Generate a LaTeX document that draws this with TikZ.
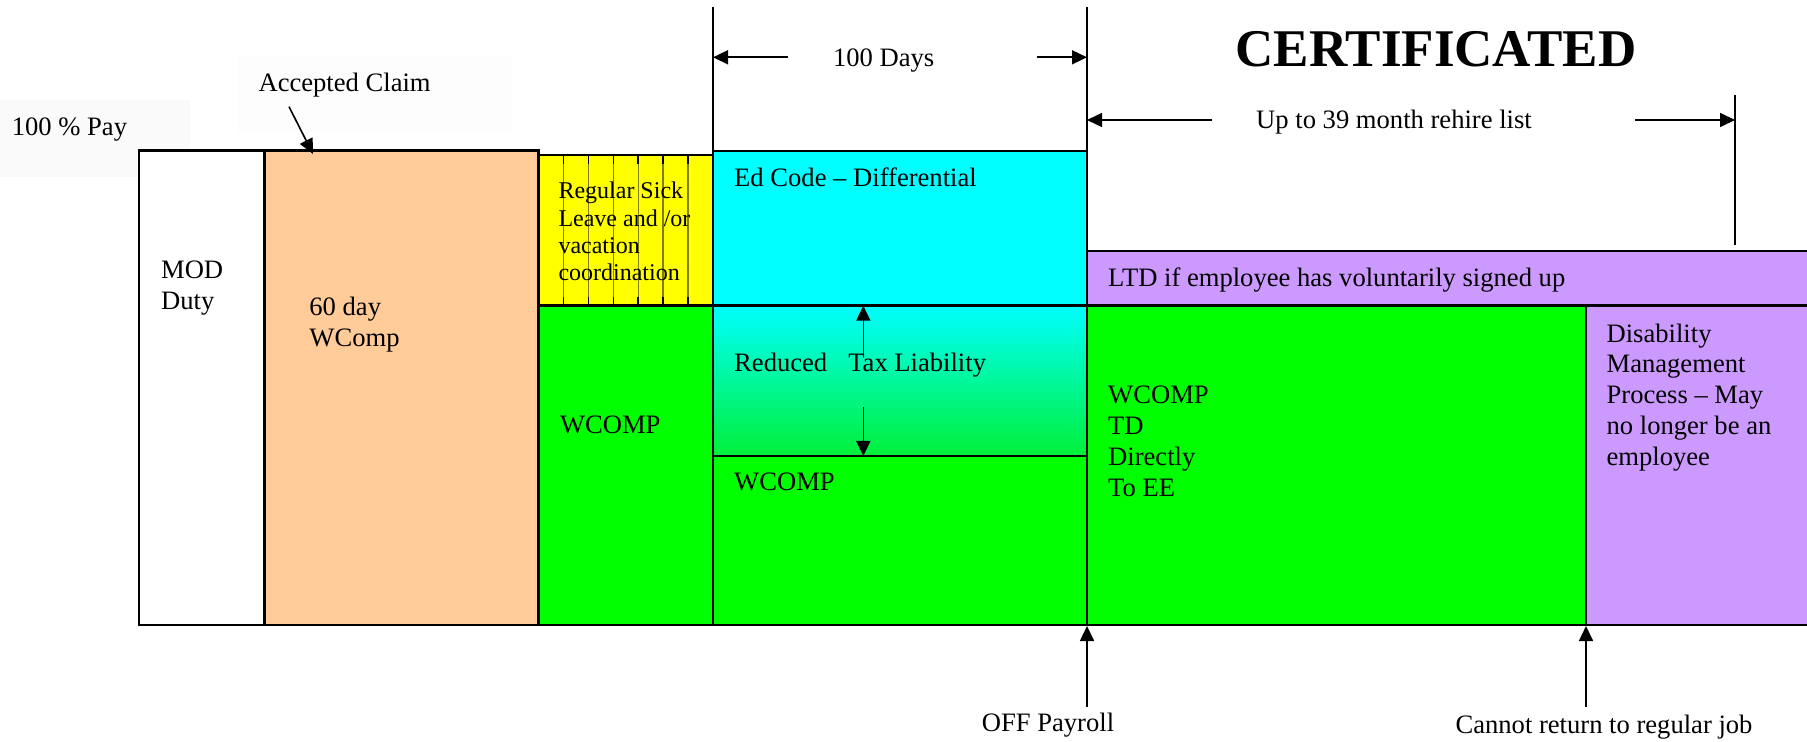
\documentclass[tikz,border=0pt]{standalone}
\usepackage{fontspec}
\setmainfont{Liberation Serif}
\usetikzlibrary{arrows.meta}
\definecolor{peach}{HTML}{FFCC99}
\definecolor{lilac}{HTML}{CC99FF}
\definecolor{aqua}{HTML}{00FFFF}
\definecolor{wgreen}{HTML}{00FF00}
\definecolor{gradgreen}{HTML}{00F038}
\definecolor{yel}{HTML}{FFFF00}
\definecolor{stripecol}{HTML}{808000}
\definecolor{paybg}{HTML}{FAFAFA}
\definecolor{accbg}{HTML}{FDFDFD}
\begin{document}
\begin{tikzpicture}[x=0.5pt,y=-0.5pt,
  box/.style={draw=black,line width=1.3pt},
  stripeline/.style={draw=stripecol,line width=0.7pt},
  stripetick/.style={draw=black,line width=0.8pt},
  lbl/.style={inner sep=0pt,font=\fontsize{13.3}{15.4}\selectfont},
  mlbl/.style={lbl,align=left,anchor=north west},
  arr/.style={line width=0.8pt,-{Triangle[length=7.5pt,width=7pt]}},
  guide/.style={line width=0.75pt}]

\useasboundingbox (0,0) rectangle (1807,742);
\clip (0,0) rectangle (1807,742);

% faint text backgrounds
\fill[paybg] (0,100) rectangle (190,177);
\fill[accbg] (238,57) rectangle (513,133);

% blocks
\draw[box,fill=white] (139,150.7) rectangle (264.3,625);
\draw[box,fill=peach] (264.3,150.7) rectangle (538.6,625);
\fill[yel] (538.6,155) rectangle (713,305.7);
\foreach \i in {1,...,6}{
  \draw[stripeline] ({538.6+\i*24.91},155) -- ({538.6+\i*24.91},305.7);
  \draw[stripetick] ({538.6+\i*24.91},155) -- ({538.6+\i*24.91},164);
  \draw[stripetick] ({538.6+\i*24.91},296.7) -- ({538.6+\i*24.91},305.7);
}
\draw[box] (538.6,155) rectangle (713,305.7);
\draw[box,fill=aqua] (713,151) rectangle (1087,305.7);
\shade[top color=aqua,bottom color=gradgreen] (713,305.7) rectangle (1087,456);
\draw[box] (713,305.7) rectangle (1087,456);
\draw[box,fill=wgreen] (538.6,305.7) rectangle (713,625);
\draw[box,fill=wgreen] (713,456) rectangle (1087,625);
\draw[box,fill=lilac] (1087,251) rectangle (1815,305.7);
\draw[box,fill=wgreen] (1087,305.7) rectangle (1586,625);
\draw[box,fill=lilac] (1586,305.7) rectangle (1815,625);

% guide lines
\coordinate (gAtop) at (713,7.3);
\coordinate (gAbot) at (713,151);
\coordinate (gBtop) at (1087,7.3);
\coordinate (gBbot) at (1087,251);
\coordinate (gCtop) at (1735,95);
\coordinate (gCbot) at (1735,245);
\draw[guide] (gAtop) -- (gAbot);
\draw[guide] (gBtop) -- (gBbot);
\draw[guide] (gCtop) -- (gCbot);

% labels
\node[lbl,anchor=base west] (pay) at (11.4,136) {100 \% Pay};
\node[lbl,anchor=base] (acc) at (344.6,91.7) {Accepted Claim};
\node[mlbl] (mod) at (160.7,256.7) {\strut MOD\\Duty};
\node[mlbl] (wc60) at (309,293.4) {\strut 60 day\\WComp};
\node[mlbl,font=\fontsize{12}{13.7}\selectfont] (sick) at (558.1,179.1)
  {\strut Regular Sick\\Leave and /or\\vacation\\coordination};
\node[lbl,anchor=base west] (ed) at (733.8,186.7) {Ed Code – Differential};
\node[lbl,anchor=base west] (red) at (733.8,371.7) {Reduced\hspace*{10.5pt}Tax Liability};
\node[lbl,anchor=base west] (wcA) at (559.6,433.3) {WCOMP};
\node[lbl,anchor=base west] (wcB) at (733.8,490) {WCOMP};
\node[lbl,anchor=base west] (ltd) at (1107.8,286.7) {LTD if employee has voluntarily signed up};
\node[mlbl] (wctd) at (1107.8,381.7) {\strut WCOMP\\TD\\Directly\\To EE};
\node[mlbl] (dis) at (1606.2,320.1) {\strut Disability\\Management\\Process – May\\no longer be an\\employee};
\node[lbl,anchor=base] (days) at (883.6,66.7) {100 Days};
\node[inner sep=0pt,anchor=base,font=\fontsize{26.5}{30}\selectfont\bfseries] (cert) at (1436,66.7) {CERTIFICATED};
\node[lbl,anchor=base] (rehire) at (1394,128.3) {Up to 39 month rehire list};
\node[lbl,anchor=base] (off) at (1048,731.7) {OFF Payroll};
\node[lbl,anchor=base] (cannot) at (1604,733.3) {Cannot return to regular job};

% arrows
\coordinate (acS) at (289,106.7);
\coordinate (acE) at (313,154);
\draw[arr] (acS) -- (acE);

\coordinate (taxUpS) at (863.3,356.7);
\coordinate (taxUpE) at (863.3,305.7);
\coordinate (taxDnS) at (863.3,406.7);
\coordinate (taxDnE) at (863.3,456);
\draw[arr] (taxUpS) -- (taxUpE);
\draw[arr] (taxDnS) -- (taxDnE);

\coordinate (dLS) at (787.9,57.3);
\coordinate (dLE) at (713,57.3);
\coordinate (dRS) at (1036.6,57.3);
\coordinate (dRE) at (1087,57.3);
\draw[arr] (dLS) -- (dLE);
\draw[arr] (dRS) -- (dRE);

\coordinate (rLS) at (1212,120);
\coordinate (rLE) at (1087,120);
\coordinate (rRS) at (1635,120);
\coordinate (rRE) at (1735,120);
\draw[arr] (rLS) -- (rLE);
\draw[arr] (rRS) -- (rRE);

\coordinate (offS) at (1087,706.7);
\coordinate (offE) at (1087,626);
\coordinate (canS) at (1586,706.7);
\coordinate (canE) at (1586,626);
\draw[arr] (offS) -- (offE);
\draw[arr] (canS) -- (canE);
\end{tikzpicture}
\end{document}
